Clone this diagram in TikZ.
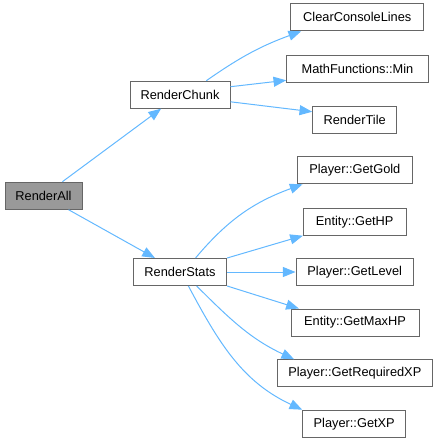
\documentclass[tikz,border=0pt]{standalone}
\usepackage{fontspec}
\setmainfont{Liberation Sans}
\usetikzlibrary{arrows.meta}
\definecolor{edgeblue}{HTML}{63B8FF}
\definecolor{boxline}{HTML}{666666}
\definecolor{rootfill}{HTML}{999999}
\tikzset{
  fn/.style={draw=boxline, line width=0.75pt, fill=white, inner sep=0pt,
    minimum height=20.25pt, font=\fontsize{9.6pt}{11pt}\selectfont},
  rootfn/.style={fn, fill=rootfill},
  call/.style={draw=edgeblue, line width=0.75pt,
    -{Triangle[length=9.5pt,width=7.5pt]}}
}
\begin{document}
\begin{tikzpicture}[x=0.75pt,y=-0.75pt]
\useasboundingbox (0,0) rectangle (438,443);
\node[rootfn, minimum width=57.75pt] (ra) at (43.5,195.7) {RenderAll};
\node[fn, minimum width=75pt] (rc) at (180,94.7) {RenderChunk};
\node[fn, minimum width=70pt] (rs) at (180,272) {RenderStats};
\node[fn, minimum width=100pt] (ccl) at (357.3,17.3) {ClearConsoleLines};
\node[fn, minimum width=106.2pt] (min) at (357.5,69) {MathFunctions::Min};
\node[fn, minimum width=63pt] (tile) at (354.7,120) {RenderTile};
\node[fn, minimum width=86.25pt] (gold) at (354.8,170.3) {Player::GetGold};
\node[fn, minimum width=77pt] (hp) at (354.7,221.7) {Entity::GetHP};
\node[fn, minimum width=88pt] (lvl) at (354.7,272) {Player::GetLevel};
\node[fn, minimum width=96pt] (mhp) at (355,322.5) {Entity::GetMaxHP};
\node[fn, minimum width=116.25pt] (rxp) at (354.8,373.3) {Player::GetRequiredXP};
\node[fn, minimum width=77.25pt] (xp) at (354.2,423.7) {Player::GetXP};

\draw[call] (ra) -- (rc);
\draw[call] (ra) -- (rs);
\draw[call] (rc.28) to[out=35,in=200] (ccl.194);
\draw[call] (rc.9) -- (min.189);
\draw[call] (rc.-8) -- (tile.169);
\draw[call] (rs.42) to[out=50,in=200] (gold.195);
\draw[call] (rs.north east) -- (hp.south west);
\draw[call] (rs.east) -- (lvl.west);
\draw[call] (rs.south east) -- (mhp.166);
\draw[call] (rs.-40) to[out=-45,in=155] (rxp.167);
\draw[call] (rs.-59) to[out=-62,in=155] (xp.north west);
\end{tikzpicture}
\end{document}
